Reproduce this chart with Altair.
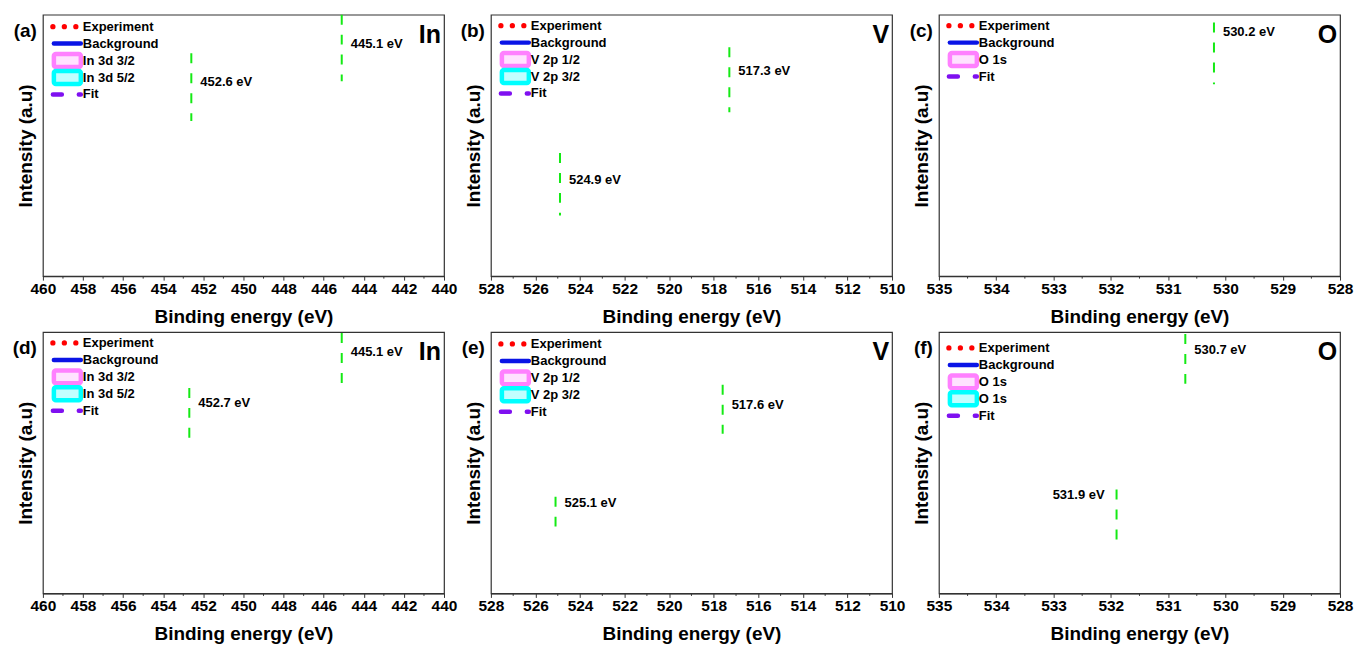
import altair as alt
import pandas as pd

FONT = "Liberation Sans"
W, H = 402, 262
ROW = 17  # legend row spacing (px)

panel_tags = ["(a)", "(b)", "(c)", "(d)", "(e)", "(f)"]
element_labels = ["In", "V", "O", "In", "V", "O"]
x_low = [440, 510, 528, 440, 510, 528]
x_high = [460, 528, 535, 460, 528, 535]
tick_labels = [
    [460, 458, 456, 454, 452, 450, 448, 446, 444, 442, 440],
    [528, 526, 524, 522, 520, 518, 516, 514, 512, 510],
    [535, 534, 533, 532, 531, 530, 529, 528],
    [460, 458, 456, 454, 452, 450, 448, 446, 444, 442, 440],
    [528, 526, 524, 522, 520, 518, 516, 514, 512, 510],
    [535, 534, 533, 532, 531, 530, 529, 528],
]
legend_entries = [
    ["Experiment", "Background", "In 3d 3/2", "In 3d 5/2", "Fit"],
    ["Experiment", "Background", "V 2p 1/2", "V 2p 3/2", "Fit"],
    ["Experiment", "Background", "O 1s", "Fit"],
    ["Experiment", "Background", "In 3d 3/2", "In 3d 5/2", "Fit"],
    ["Experiment", "Background", "V 2p 1/2", "V 2p 3/2", "Fit"],
    ["Experiment", "Background", "O 1s", "O 1s", "Fit"],
]
# peak positions (eV) and vertical extent of the marker lines (relative intensity, 0..1)
peak_energy = [[452.6, 445.1], [524.9, 517.3], [530.2], [452.7, 445.1], [525.1, 517.6], [531.9, 530.7]]
peak_top = [[0.852, 1.0], [0.471, 0.875], [0.970], [0.786, 0.996], [0.370, 0.798], [0.397, 0.992]]
peak_bottom = [[0.593, 0.745], [0.232, 0.627], [0.734], [0.595, 0.805], [0.256, 0.611], [0.198, 0.802]]
label_level = [[0.741, 0.886], [0.369, 0.783], [0.935], [0.729, 0.924], [0.345, 0.721], [0.378, 0.931]]
label_side = [["right", "right"], ["right", "right"], ["right"], ["right", "right"], ["right", "right"], ["left", "right"]]

legend_top = [12, 11, 11, 11, 12, 16]
GREEN = "#14ea14"
peak_stroke = ["#ff80ff", "#00ffff"]
peak_fill = ["#ffe2ff", "#c2ffff"]


def txt(**kw):
    base = dict(font=FONT, fontWeight="bold", color="black", baseline="middle")
    base.update(kw)
    return base


def panel(i):
    df = pd.DataFrame({
        "energy": peak_energy[i],
        "top": peak_top[i],
        "bottom": peak_bottom[i],
        "level": label_level[i],
        "side": label_side[i],
        "label": [f"{e} eV" for e in peak_energy[i]],
    })
    ticks = tick_labels[i]
    minor = [(a + b) / 2 for a, b in zip(ticks[:-1], ticks[1:])]
    df_minor = pd.DataFrame({"energy": minor})

    xscale = alt.Scale(domain=[x_low[i], x_high[i]], reverse=True, nice=False, zero=False)
    xaxis = alt.Axis(values=ticks, title="Binding energy (eV)", format="d", grid=False,
                     labelFlush=False, labelOverlap=False)
    yscale = alt.Scale(domain=[0, 1], nice=False, zero=False)
    yaxis = alt.Axis(title="Intensity (a.u)", labels=False, ticks=False, domain=False, grid=False)

    def xenc():
        return alt.X("energy:Q", scale=xscale, axis=xaxis)

    rules = alt.Chart(df).mark_rule(color=GREEN, strokeWidth=2, strokeDash=[10, 10]).encode(
        x=xenc(),
        y=alt.Y("top:Q", scale=yscale, axis=yaxis),
        y2="bottom:Q",
    )
    layers = [rules]
    for side, align, dx in (("right", "left", 9), ("left", "right", -12)):
        if side in label_side[i]:
            layers.append(
                alt.Chart(df).transform_filter(alt.datum.side == side)
                .mark_text(**txt(align=align, dx=dx, fontSize=13))
                .encode(x=xenc(), y=alt.Y("level:Q", scale=yscale, axis=yaxis), text="label:N")
            )
    layers.append(
        alt.Chart(df_minor).mark_rule(color="#333333", strokeWidth=1).encode(
            x=xenc(), y=alt.value(H), y2=alt.value(H + 2.5)
        )
    )

    one = alt.Data(values=[{"k": 0}])
    entries = legend_entries[i]
    n = len(entries)
    for j, name in enumerate(entries):
        yy = legend_top[i] + ROW * j
        if j == 0:
            for xx in (10, 21.5, 33):
                layers.append(alt.Chart(one).mark_circle(color="#ff0000", size=28, opacity=1).encode(
                    x=alt.value(xx), y=alt.value(yy)))
        elif j == 1:
            layers.append(alt.Chart(one).mark_rule(color="#0a14e6", strokeWidth=4.5, strokeCap="round").encode(
                x=alt.value(11), x2=alt.value(38), y=alt.value(yy)))
        elif j == n - 1:
            layers.append(alt.Chart(one).mark_rule(color="#7f10f0", strokeWidth=4.5, strokeCap="round",
                                                   strokeDash=[9, 17]).encode(
                x=alt.value(10), x2=alt.value(38), y=alt.value(yy)))
        else:
            k = j - 2
            layers.append(alt.Chart(one).mark_rect(fill=peak_fill[k], stroke=peak_stroke[k], strokeWidth=4.5,
                                                   cornerRadius=2).encode(
                x=alt.value(11), x2=alt.value(38), y=alt.value(yy - 6.5), y2=alt.value(yy + 6.5)))
        layers.append(alt.Chart(one).mark_text(**txt(align="left", fontSize=13)).encode(
            x=alt.value(40), y=alt.value(yy), text=alt.value(name)))

    layers.append(alt.Chart(one).mark_text(**txt(align="right", fontSize=25)).encode(
        x=alt.value(W - 3), y=alt.value(20), text=alt.value(element_labels[i])))
    layers.append(alt.Chart(one).mark_text(**txt(align="right", fontSize=19)).encode(
        x=alt.value(-6), y=alt.value(16), text=alt.value(panel_tags[i])))

    return alt.layer(*layers).properties(width=W, height=H)


chart = alt.concat(
    *[panel(i) for i in range(6)],
    columns=3,
    spacing={"row": 56, "column": 47},
    bounds="flush",
).properties(
    padding={"left": 12, "top": 12, "right": 0, "bottom": 0},
    background="white",
).configure_view(
    stroke="#333333", strokeWidth=1.2
).configure_axis(
    labelFont=FONT, titleFont=FONT, labelFontWeight="bold", titleFontWeight="bold",
    labelFontSize=15.5, titleFontSize=19, labelColor="black", titleColor="black",
    domainColor="#333333", tickColor="#333333", tickSize=4, domainWidth=1.2,
).configure_axisX(
    labelPadding=1, titlePadding=11
).configure_axisY(
    titlePadding=7
)

chart.save("out.html", embed_options={"renderer": "svg", "actions": False})
